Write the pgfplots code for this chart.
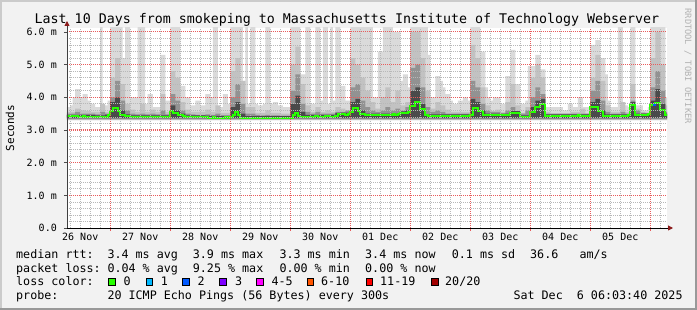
\documentclass[border=0pt]{standalone}
\usepackage{fontspec}
\setmainfont{DejaVu Sans Mono}
\usepackage{pgfplots}
\pgfplotsset{compat=1.18}
\usetikzlibrary{arrows.meta}
\definecolor{bgc}{HTML}{F2F2F2}
\definecolor{shadea}{HTML}{CBCBCB}
\definecolor{shadeb}{HTML}{999999}
\definecolor{mgridc}{HTML}{E85C5C}
\definecolor{ngridc}{HTML}{B8B8B8}
\definecolor{arrowc}{HTML}{8B1A1A}
\definecolor{sm1}{HTML}{DADADA}
\definecolor{sm2}{HTML}{C2C2C2}
\definecolor{sm3}{HTML}{929292}
\definecolor{sm4}{HTML}{4A4A4A}
\definecolor{lc0}{HTML}{26FF00}
\definecolor{lc1}{HTML}{00B8FF}
\definecolor{lc2}{HTML}{0059FF}
\definecolor{lc3}{HTML}{7E00FF}
\definecolor{lc4}{HTML}{FF00FF}
\definecolor{lc6}{HTML}{FF5500}
\definecolor{lc11}{HTML}{FF0000}
\definecolor{lc20}{HTML}{A10000}
\begin{document}
\begin{tikzpicture}
\useasboundingbox (0pt,0pt) rectangle (697pt,310pt);
\begin{scope}[x=1pt,y=1pt]
\fill[bgc] (0,0) rectangle (697,310);
\fill[shadea] (0,0) rectangle (2,310);
\fill[shadea] (0,308) rectangle (697,310);
\fill[shadeb] (695,0) rectangle (697,310);
\fill[shadeb] (0,0) rectangle (697,2);
\end{scope}
\begin{axis}[
  at={(67pt,82pt)}, anchor=south west,
  scale only axis, width=600pt, height=200pt,
  xmin=6.7, xmax=246.7, ymin=0, ymax=6.12,
  axis lines=left,
  axis on top,
  axis background/.style={fill=white},
  x axis line style={line width=0.9pt, draw=black, -{Triangle[length=5pt,width=5pt,color=arrowc]}, shorten >=-6pt},
  y axis line style={line width=0.9pt, draw=black!75, -{Triangle[length=5pt,width=5pt,color=arrowc]}, shorten >=-7pt},
  xmajorgrids=false, ymajorgrids=false, xminorgrids=true, yminorgrids=true,
  minor grid style={color=ngridc, line width=0.7pt, dash pattern=on 1pt off 1pt},
  xtick={24,48,...,240}, xticklabels={},
  minor xtick={8,12,16,20,28,32,36,40,44,52,56,60,64,68,76,80,84,88,92,100,104,108,112,116,124,128,132,136,140,148,152,156,160,164,172,176,180,184,188,196,200,204,208,212,220,224,228,232,236,244},
  extra x ticks={12,36,60,84,108,132,156,180,204,228},
  extra x tick labels={26 Nov,27 Nov,28 Nov,29 Nov,30 Nov,01 Dec,02 Dec,03 Dec,04 Dec,05 Dec},
  extra x tick style={major tick length=0pt},
  ytick={0,1,2,3,4,5,6}, yticklabels={0.0,1.0 m,2.0 m,3.0 m,4.0 m,5.0 m,6.0 m},
  minor y tick num=4,
  tick align=outside, major tick length=3pt, minor tick length=0pt,
  x tick style={color=mgridc, line width=1pt},
  y tick style={color=black!70, line width=0.8pt},
  tick label style={font=\fontsize{10}{12}\selectfont},
  xticklabel style={anchor=base, inner sep=0pt, yshift=-13pt},
  yticklabel style={anchor=base east, inner sep=0pt, xshift=-7pt, yshift=-3.7pt},
]
% lightest smoke (max envelope), 1 h columns
\addplot[const plot, fill=sm1, draw=none] coordinates {(6,3.7)(7,3.7)(8,3.75)(9,4.0)(10,4.25)(11,4.25)(12,4.0)(13,4.1)(14,4.1)(15,3.9)(16,3.8)(17,3.8)(18,3.7)(19,3.7)(20,6.2)(21,3.75)(22,3.75)(23,3.9)(24,6.2)(25,6.2)(26,6.2)(27,6.2)(28,6.2)(29,5.2)(30,6.2)(31,6.2)(32,4.0)(33,4.0)(34,4.0)(35,6.2)(36,6.2)(37,6.2)(38,3.8)(39,4.1)(40,4.1)(41,3.7)(42,3.7)(43,3.7)(44,5.3)(45,5.3)(46,3.9)(47,3.9)(48,6.2)(49,6.2)(50,6.2)(51,6.2)(52,4.35)(53,4.35)(54,4.0)(55,4.0)(56,3.75)(57,3.75)(58,3.9)(59,3.9)(60,3.75)(61,3.75)(62,4.1)(63,4.1)(64,4.0)(65,6.2)(66,6.2)(67,3.7)(68,3.7)(69,4.1)(70,4.1)(71,3.8)(72,6.2)(73,6.2)(74,6.2)(75,6.2)(76,6.2)(77,4.5)(78,6.2)(79,3.8)(80,6.2)(81,6.2)(82,3.8)(83,3.75)(84,3.75)(85,3.8)(86,6.2)(87,6.2)(88,3.8)(89,3.85)(90,3.85)(91,3.75)(92,3.75)(93,3.7)(94,3.7)(95,3.7)(96,6.2)(97,6.2)(98,6.2)(99,6.2)(100,4.7)(101,4.7)(102,6.2)(103,6.2)(104,3.8)(105,3.8)(106,6.2)(107,6.2)(108,3.9)(109,6.2)(110,6.2)(111,3.8)(112,6.2)(113,3.9)(114,6.2)(115,6.2)(116,4.35)(117,4.35)(118,3.9)(119,3.9)(120,6.2)(121,6.2)(122,6.2)(123,6.2)(124,6.2)(125,6.2)(126,6.2)(127,6.2)(128,6.2)(129,4.0)(130,4.0)(131,5.4)(132,5.4)(133,6.2)(134,6.2)(135,6.2)(136,6.2)(137,6.0)(138,6.0)(139,6.0)(140,4.5)(141,4.7)(142,4.7)(143,4.3)(144,6.2)(145,6.2)(146,6.2)(147,6.2)(148,6.2)(149,6.2)(150,6.2)(151,5.3)(152,4.0)(153,4.0)(154,4.65)(155,4.65)(156,4.5)(157,4.3)(158,4.1)(159,4.1)(160,3.9)(161,3.8)(162,3.8)(163,3.9)(164,3.9)(165,4.0)(166,4.0)(167,3.9)(168,6.2)(169,6.2)(170,6.2)(171,6.2)(172,5.4)(173,5.4)(174,4.3)(175,4.0)(176,3.9)(177,4.0)(178,4.0)(179,4.0)(180,3.8)(181,3.8)(182,4.65)(183,4.65)(184,5.45)(185,5.45)(186,4.4)(187,4.4)(188,3.8)(189,3.8)(190,3.9)(191,4.95)(192,4.95)(193,4.95)(194,5.3)(195,5.3)(196,4.85)(197,4.85)(198,3.7)(199,3.7)(200,3.7)(201,3.7)(202,3.7)(203,3.7)(204,3.7)(205,3.6)(206,3.6)(207,3.8)(208,3.8)(209,3.7)(210,3.7)(211,4.0)(212,4.0)(213,3.7)(214,3.7)(215,3.7)(216,5.6)(217,5.6)(218,5.75)(219,5.75)(220,5.2)(221,5.2)(222,4.7)(223,3.9)(224,3.7)(225,3.7)(226,3.7)(227,6.2)(228,6.2)(229,3.75)(230,3.75)(231,3.7)(232,6.2)(233,6.2)(234,3.75)(235,3.75)(236,3.75)(237,3.6)(238,3.6)(239,3.7)(240,6.2)(241,6.2)(242,6.2)(243,6.2)(244,6.2)(245,6.2)(246,4.0)(247,3.3)(6,3.3)};
% second smoke band, 2 h columns
\addplot[const plot, fill=sm2, draw=none] coordinates {(6,3.55)(8,3.55)(10,3.65)(12,3.6)(14,3.58)(16,3.55)(18,3.55)(20,3.8)(22,3.55)(24,4.6)(26,5.2)(28,4.4)(30,3.8)(32,3.62)(34,3.55)(36,3.8)(38,3.55)(40,3.62)(42,3.55)(44,4.1)(46,3.55)(48,4.8)(50,4.6)(52,3.85)(54,3.62)(56,3.55)(58,3.55)(60,3.55)(62,3.62)(64,3.55)(66,3.75)(68,3.52)(70,3.52)(72,4.8)(74,5.2)(76,4.5)(78,3.7)(80,3.7)(82,3.52)(84,3.52)(86,3.6)(88,3.52)(90,3.52)(92,3.5)(94,3.5)(96,5.0)(98,5.55)(100,4.4)(102,3.75)(104,3.55)(106,3.7)(108,3.55)(110,3.6)(112,3.55)(114,3.7)(116,3.65)(118,3.6)(120,5.2)(122,5.0)(124,4.6)(126,4.2)(128,3.85)(130,3.65)(132,4.0)(134,4.3)(136,3.85)(138,4.2)(140,3.75)(142,3.85)(144,6.0)(146,6.0)(148,5.2)(150,4.2)(152,3.65)(154,3.85)(156,3.75)(158,3.62)(160,3.55)(162,3.55)(164,3.55)(166,3.55)(168,5.6)(170,5.2)(172,4.3)(174,3.75)(176,3.58)(178,3.62)(180,3.55)(182,3.85)(184,4.4)(186,3.75)(188,3.52)(190,3.7)(192,4.6)(194,5.0)(196,4.6)(198,3.55)(200,3.5)(202,3.5)(204,3.5)(206,3.5)(208,3.55)(210,3.55)(212,3.65)(214,3.5)(216,4.6)(218,5.3)(220,4.5)(222,3.75)(224,3.55)(226,3.55)(228,3.85)(230,3.55)(232,4.4)(234,3.65)(236,3.55)(238,3.52)(240,5.2)(242,6.0)(244,5.0)(246,3.75)(248,3.3)(6,3.3)};
% third smoke band
\addplot[const plot, fill=sm3, draw=none] coordinates {(6,3.5)(8,3.5)(10,3.55)(12,3.5)(14,3.5)(16,3.5)(18,3.48)(20,3.55)(22,3.5)(24,4.0)(26,4.5)(28,3.9)(30,3.6)(32,3.5)(34,3.48)(36,3.5)(38,3.48)(40,3.5)(42,3.48)(44,3.6)(46,3.48)(48,4.1)(50,3.9)(52,3.6)(54,3.5)(56,3.48)(58,3.46)(60,3.46)(62,3.48)(64,3.46)(66,3.5)(68,3.45)(70,3.45)(72,4.0)(74,4.4)(76,3.8)(78,3.5)(80,3.5)(82,3.46)(84,3.45)(86,3.46)(88,3.45)(90,3.45)(92,3.44)(94,3.44)(96,4.2)(98,4.7)(100,3.8)(102,3.55)(104,3.5)(106,3.55)(108,3.5)(110,3.5)(112,3.5)(114,3.55)(116,3.55)(118,3.6)(120,4.3)(122,4.4)(124,3.9)(126,3.7)(128,3.6)(130,3.55)(132,3.6)(134,3.7)(136,3.6)(138,3.65)(140,3.6)(142,3.7)(144,4.9)(146,5.0)(148,4.3)(150,3.7)(152,3.55)(154,3.6)(156,3.55)(158,3.5)(160,3.5)(162,3.5)(164,3.5)(166,3.5)(168,4.5)(170,4.3)(172,3.8)(174,3.6)(176,3.55)(178,3.55)(180,3.5)(182,3.6)(184,3.7)(186,3.55)(188,3.5)(190,3.6)(192,4.0)(194,4.3)(196,4.1)(198,3.5)(200,3.5)(202,3.5)(204,3.5)(206,3.5)(208,3.5)(210,3.5)(212,3.5)(214,3.5)(216,4.2)(218,4.5)(220,3.9)(222,3.55)(224,3.5)(226,3.5)(228,3.55)(230,3.5)(232,3.9)(234,3.6)(236,3.52)(238,3.52)(240,4.3)(242,4.8)(244,4.2)(246,3.55)(248,3.33)(6,3.33)};
% darkest smoke near the median
\addplot[const plot, fill=sm4, draw=none] coordinates {(6,3.46)(8,3.46)(10,3.46)(12,3.46)(14,3.46)(16,3.46)(18,3.45)(20,3.45)(22,3.47)(24,3.85)(26,4.0)(28,3.6)(30,3.48)(32,3.45)(34,3.45)(36,3.45)(38,3.45)(40,3.45)(42,3.45)(44,3.45)(46,3.45)(48,3.75)(50,3.6)(52,3.5)(54,3.45)(56,3.45)(58,3.45)(60,3.45)(62,3.44)(64,3.43)(66,3.43)(68,3.43)(70,3.43)(72,3.7)(74,3.85)(76,3.5)(78,3.42)(80,3.42)(82,3.42)(84,3.42)(86,3.42)(88,3.42)(90,3.42)(92,3.42)(94,3.42)(96,3.8)(98,4.05)(100,3.55)(102,3.46)(104,3.46)(106,3.46)(108,3.46)(110,3.46)(112,3.46)(114,3.52)(116,3.53)(118,3.53)(120,3.85)(122,3.95)(124,3.6)(126,3.5)(128,3.5)(130,3.5)(132,3.5)(134,3.5)(136,3.5)(138,3.5)(140,3.57)(142,3.6)(144,4.2)(146,4.3)(148,3.8)(150,3.48)(152,3.48)(154,3.48)(156,3.48)(158,3.48)(160,3.48)(162,3.48)(164,3.48)(166,3.48)(168,3.95)(170,3.85)(172,3.6)(174,3.5)(176,3.5)(178,3.5)(180,3.5)(182,3.5)(184,3.58)(186,3.58)(188,3.45)(190,3.45)(192,3.7)(194,3.9)(196,3.95)(198,3.48)(200,3.48)(202,3.48)(204,3.48)(206,3.48)(208,3.48)(210,3.48)(212,3.48)(214,3.48)(216,3.85)(218,3.95)(220,3.6)(222,3.48)(224,3.48)(226,3.48)(228,3.48)(230,3.48)(232,3.85)(234,3.5)(236,3.5)(238,3.5)(240,3.9)(242,4.25)(244,3.8)(246,3.5)(248,3.36)(6,3.36)};
% median rtt
\addplot[const plot, line width=2pt, color=lc0] coordinates {(6,3.42)(7,3.42)(8,3.43)(9,3.42)(10,3.42)(11,3.41)(12,3.41)(13,3.42)(14,3.41)(15,3.41)(16,3.41)(17,3.40)(18,3.41)(19,3.39)(20,3.39)(21,3.39)(22,3.40)(23,3.47)(24,3.57)(25,3.68)(26,3.68)(27,3.57)(28,3.47)(29,3.46)(30,3.42)(31,3.42)(32,3.41)(33,3.40)(34,3.40)(35,3.41)(36,3.40)(37,3.40)(38,3.39)(39,3.40)(40,3.40)(41,3.41)(42,3.40)(43,3.40)(44,3.40)(45,3.39)(46,3.40)(47,3.41)(48,3.58)(49,3.52)(50,3.52)(51,3.47)(52,3.47)(53,3.42)(54,3.41)(55,3.41)(56,3.41)(57,3.40)(58,3.41)(59,3.41)(60,3.40)(61,3.41)(62,3.39)(63,3.38)(64,3.38)(65,3.39)(66,3.38)(67,3.38)(68,3.38)(69,3.38)(70,3.39)(71,3.38)(72,3.39)(73,3.47)(74,3.55)(75,3.47)(76,3.38)(77,3.37)(78,3.37)(79,3.37)(80,3.38)(81,3.37)(82,3.37)(83,3.37)(84,3.37)(85,3.37)(86,3.38)(87,3.37)(88,3.37)(89,3.37)(90,3.37)(91,3.37)(92,3.38)(93,3.37)(94,3.37)(95,3.37)(96,3.38)(97,3.45)(98,3.52)(99,3.44)(100,3.41)(101,3.41)(102,3.41)(103,3.41)(104,3.41)(105,3.41)(106,3.42)(107,3.41)(108,3.41)(109,3.41)(110,3.42)(111,3.43)(112,3.41)(113,3.41)(114,3.42)(115,3.48)(116,3.48)(117,3.48)(118,3.47)(119,3.48)(120,3.55)(121,3.67)(122,3.67)(123,3.57)(124,3.49)(125,3.49)(126,3.45)(127,3.45)(128,3.45)(129,3.47)(130,3.47)(131,3.46)(132,3.47)(133,3.47)(134,3.46)(135,3.47)(136,3.47)(137,3.48)(138,3.47)(139,3.48)(140,3.52)(141,3.52)(142,3.52)(143,3.54)(144,3.72)(145,3.72)(146,3.86)(147,3.86)(148,3.65)(149,3.65)(150,3.45)(151,3.44)(152,3.44)(153,3.43)(154,3.43)(155,3.44)(156,3.43)(157,3.43)(158,3.42)(159,3.42)(160,3.43)(161,3.43)(162,3.42)(163,3.43)(164,3.42)(165,3.42)(166,3.43)(167,3.43)(168,3.45)(169,3.67)(170,3.67)(171,3.57)(172,3.57)(173,3.46)(174,3.46)(175,3.46)(176,3.45)(177,3.46)(178,3.46)(179,3.45)(180,3.46)(181,3.46)(182,3.46)(183,3.47)(184,3.52)(185,3.52)(186,3.53)(187,3.53)(188,3.39)(189,3.39)(190,3.39)(191,3.40)(192,3.55)(193,3.55)(194,3.69)(195,3.70)(196,3.79)(197,3.79)(198,3.43)(199,3.43)(200,3.42)(201,3.43)(202,3.43)(203,3.42)(204,3.43)(205,3.43)(206,3.44)(207,3.43)(208,3.43)(209,3.44)(210,3.43)(211,3.45)(212,3.44)(213,3.43)(214,3.43)(215,3.44)(216,3.69)(217,3.69)(218,3.69)(219,3.57)(220,3.57)(221,3.43)(222,3.43)(223,3.42)(224,3.43)(225,3.43)(226,3.43)(227,3.42)(228,3.43)(229,3.44)(230,3.43)(231,3.46)(232,3.76)(233,3.76)(234,3.46)(235,3.46)(236,3.46)(237,3.46)(238,3.45)(239,3.50)(240,3.76)(241,3.76)(242,3.83)(243,3.83)(244,3.60)(245,3.60)(246,3.45)(247,3.45)};
% one interval with loss 2
\addplot[const plot, line width=2pt, color=lc2] coordinates {(241.2,3.76)(242.2,3.76)};
% major grid (day boundaries and whole milliseconds), drawn over the smoke
\pgfplotsinvokeforeach{24,48,72,96,120,144,168,192,216,240}{
  \draw[draw=mgridc, line width=1.1pt, dash pattern=on 1pt off 1pt] (axis cs:#1,0) -- (axis cs:#1,6.12);
}
\pgfplotsinvokeforeach{1,2,3,4,5,6}{
  \draw[draw=mgridc, line width=1.1pt, dash pattern=on 1pt off 1pt] (axis cs:6.7,#1) -- (axis cs:246.7,#1);
}
\end{axis}
\begin{scope}[x=1pt,y=1pt]
% title and labels
\node[anchor=base, font=\fontsize{13.3}{16}\selectfont] at (347,286.7) {Last 10 Days from smokeping to Massachusetts Institute of Technology Webserver};
\node[rotate=90, font=\fontsize{11}{13}\selectfont] at (10,182) {Seconds};
\node[rotate=-90, anchor=west, text=gray!60, font=\fontsize{8.7}{10}\selectfont] at (688,305) {RRDTOOL / TOBI OETIKER};
% legend
\begin{scope}[every node/.style={anchor=base west, inner sep=0pt, font=\fontsize{11.7}{14}\selectfont}]
\node at (16,51.7) {median rtt:};
\node at (107.3,51.7) {3.4 ms avg};
\node at (192.7,51.7) {3.9 ms max};
\node at (279.3,51.7) {3.3 ms min};
\node at (365,51.7) {3.4 ms now};
\node at (451.7,51.7) {0.1 ms sd};
\node at (530,51.7) {36.6};
\node at (579.3,51.7) {am/s};
\node at (16,37.9) {packet loss:};
\node at (107.3,37.9) {0.04 \% avg};
\node at (192.7,37.9) {9.25 \% max};
\node at (279.3,37.9) {0.00 \% min};
\node at (365,37.9) {0.00 \% now};
\node at (16,24.1) {loss color:};
\node at (123.3,24.1) {0};
\node at (160.7,24.1) {1};
\node at (197.3,24.1) {2};
\node at (235,24.1) {3};
\node at (271.3,24.1) {4-5};
\node at (321,24.1) {6-10};
\node at (380,24.1) {11-19};
\node at (445,24.1) {20/20};
\node at (16,10.3) {probe:};
\node at (107.3,10.3) {20 ICMP Echo Pings (56 Bytes) every 300s};
\node at (513.3,10.3) {Sat Dec\ \ 6 06:03:40 2025};
\end{scope}
\begin{scope}[line width=0.8pt]
\draw[fill=lc0] (108.7,24.6) rectangle (115.5,31.4);
\draw[fill=lc1] (145.9,24.6) rectangle (152.7,31.4);
\draw[fill=lc2] (182.7,24.6) rectangle (189.5,31.4);
\draw[fill=lc3] (219.5,24.6) rectangle (226.3,31.4);
\draw[fill=lc4] (256.7,24.6) rectangle (263.5,31.4);
\draw[fill=lc6] (306.9,24.6) rectangle (313.7,31.4);
\draw[fill=lc11] (365.9,24.6) rectangle (372.7,31.4);
\draw[fill=lc20] (431.3,24.6) rectangle (438.1,31.4);
\end{scope}
\end{scope}
\end{tikzpicture}
\end{document}
